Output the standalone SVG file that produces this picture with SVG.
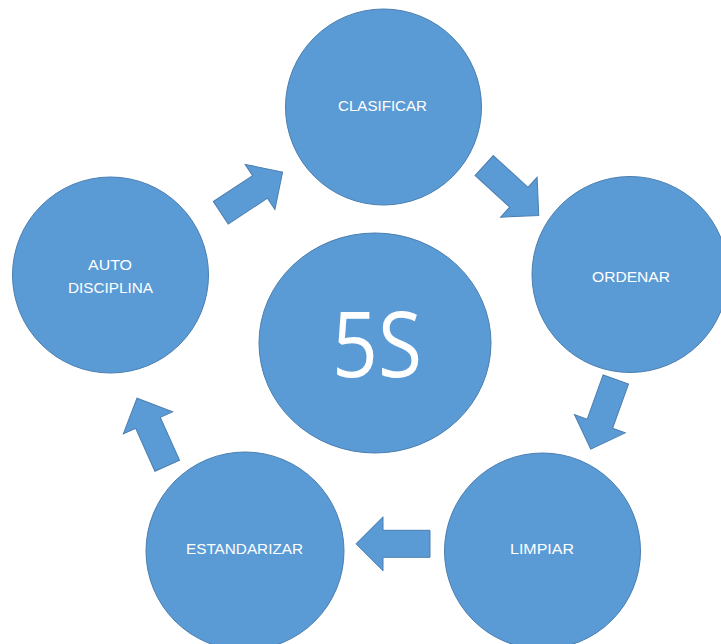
<svg xmlns="http://www.w3.org/2000/svg" width="721" height="644" viewBox="0 0 721 644">
  <style>
    .node { fill: #5B9BD5; stroke: #4A7EB0; stroke-width: 1; }
    .arrow { fill: #5B9BD5; stroke: #4A7EB0; stroke-width: 1; stroke-linejoin: miter; }
    .label { fill: #FFFFFF; font-family: "Liberation Sans", "Open Sans", sans-serif; font-size: 14px; text-anchor: middle; }
    .big { fill: #FFFFFF; font-family: "Open Sans", "Liberation Sans", sans-serif; font-size: 91px; text-anchor: middle; }
  </style>
  <defs>
    <!-- block arrow pointing along +x, tail centred on the origin -->
    <path id="blockArrow" d="M0,-13.5 H47 V-27 L74,0 L47,27 V13.5 H0 Z"/>
  </defs>
  <rect width="721" height="644" fill="#FFFFFF"/>

  <g id="connectors">
    <use href="#blockArrow" class="arrow" transform="translate(220.8,212.8) rotate(-33.4)"/>
    <use href="#blockArrow" class="arrow" transform="translate(484.2,165.5) rotate(42.5)"/>
    <use href="#blockArrow" class="arrow" transform="translate(615.8,379.5) rotate(109.8)"/>
    <use href="#blockArrow" class="arrow" transform="translate(430,543.8) rotate(180)"/>
    <use href="#blockArrow" class="arrow" transform="translate(167.2,465.8) rotate(-114.1)"/>
  </g>

  <g id="center-5s">
    <ellipse class="node" cx="375" cy="343" rx="116" ry="110"/>
    <text class="big" x="377" y="377" textLength="90" lengthAdjust="spacingAndGlyphs">5S</text>
  </g>

  <g id="clasificar">
    <circle class="node" cx="383.5" cy="107" r="98"/>
    <text class="label" x="382.5" y="110.5" textLength="89" lengthAdjust="spacingAndGlyphs">CLASIFICAR</text>
  </g>

  <g id="ordenar">
    <circle class="node" cx="630" cy="274.5" r="98"/>
    <text class="label" x="631" y="282" textLength="78" lengthAdjust="spacingAndGlyphs">ORDENAR</text>
  </g>

  <g id="limpiar">
    <circle class="node" cx="542.5" cy="551" r="98"/>
    <text class="label" x="542" y="554" textLength="64" lengthAdjust="spacingAndGlyphs">LIMPIAR</text>
  </g>

  <g id="estandarizar">
    <circle class="node" cx="245" cy="551" r="99"/>
    <text class="label" x="244.5" y="554" textLength="117" lengthAdjust="spacingAndGlyphs">ESTANDARIZAR</text>
  </g>

  <g id="autodisciplina">
    <circle class="node" cx="110.5" cy="275" r="98"/>
    <text class="label" x="110" y="270" textLength="44" lengthAdjust="spacingAndGlyphs">AUTO</text>
    <text class="label" x="110.5" y="293" textLength="85" lengthAdjust="spacingAndGlyphs">DISCIPLINA</text>
  </g>
</svg>
